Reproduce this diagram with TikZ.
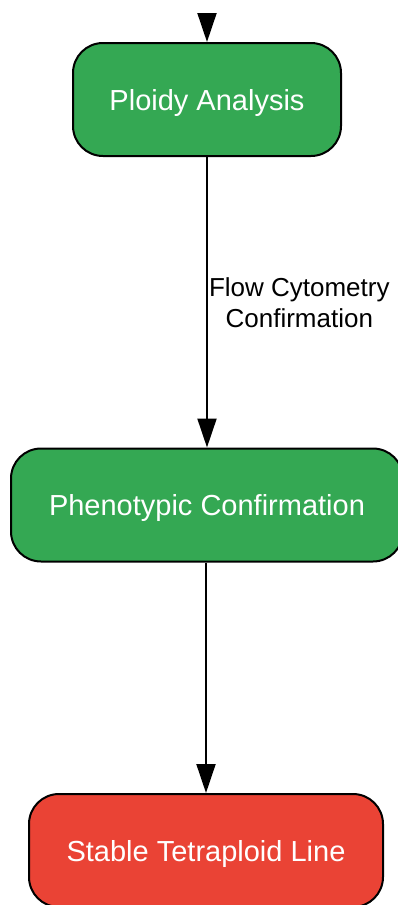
\documentclass[tikz,border=0pt]{standalone}
\usepackage{fontspec}
\setmainfont{Liberation Sans}
\usetikzlibrary{positioning,arrows.meta}
\definecolor{stepgreen}{HTML}{34A853}
\definecolor{stepred}{HTML}{EA4335}
\tikzset{
    x=1pt,
    y=1pt,
    block/.style = {
        draw,
        shape=rectangle,
        rounded corners=30pt,
        minimum height=113pt,
        line width=2pt,
        text=white,
        text depth=0pt,
        font=\fontsize{29}{34}\selectfont
    },
    pass/.style = {
        block,
        fill=stepgreen
    },
    final/.style = {
        block,
        fill=stepred
    },
    edgelabel/.style = {
        align=center,
        inner sep=1pt,
        font=\fontsize{26}{31}\selectfont
    },
    >={Triangle[length=29pt,width=19pt]},
}

\begin{document}
\begin{tikzpicture}
            \useasboundingbox (0,0) rectangle (398,-905);
            \coordinate (in) at (207,-14);
            \node[pass, minimum width=268pt] (ploidy) at (207,-99.5) {Ploidy Analysis};
            \node[pass, minimum width=392pt] (pheno) at (207,-505) {Phenotypic Confirmation};
            \node[final, minimum width=354pt] (stable) at (206,-850.5) {Stable Tetraploid Line};

            \path[draw, line width=2pt, ->] (in) -- (ploidy);
            \path[draw, line width=2pt, ->] (ploidy) -- node[edgelabel, anchor=west] {Flow Cytometry\\Confirmation} (pheno);
            \path[draw, line width=2pt, ->] (pheno.south -| stable) -- (stable);
        \end{tikzpicture}
\end{document}
